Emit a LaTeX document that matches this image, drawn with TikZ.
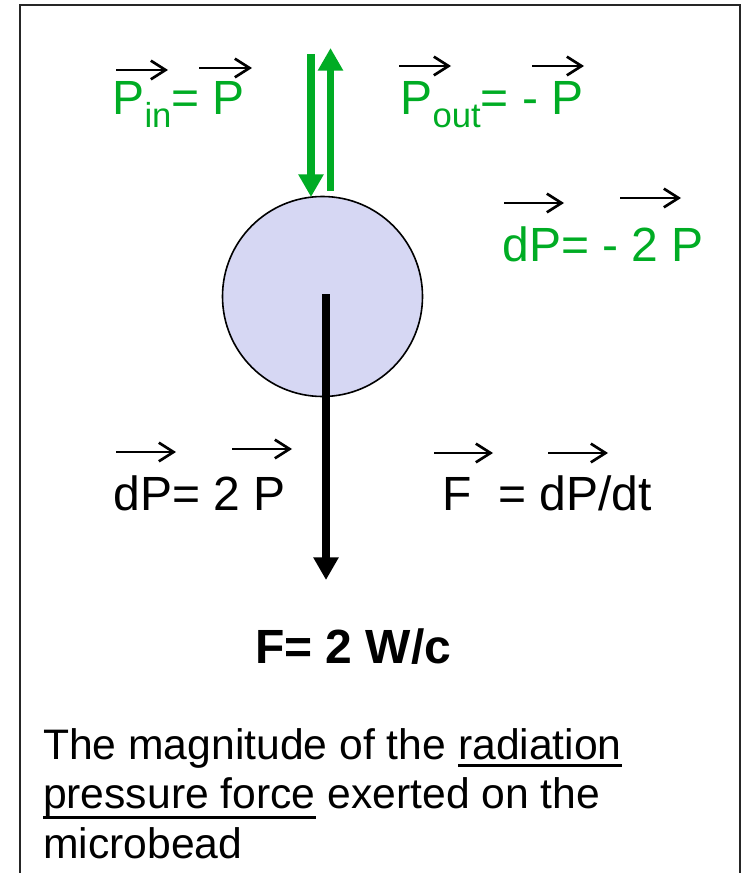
\documentclass[tikz,border=0pt]{standalone}
\usepackage{fontspec}
\setmainfont{Liberation Sans}
\usetikzlibrary{arrows.meta}
\definecolor{lgreen}{RGB}{0,172,36}
\definecolor{beadfill}{RGB}{214,215,243}
\newcommand\subtx[1]{\raisebox{-9.75pt}{\fontsize{26}{27}\selectfont #1}}
\newsavebox\ulbox
\newcommand\myul[2]{\sbox\ulbox{#2}\rlap{\rule[-#1]{\wd\ulbox}{2.2pt}}\usebox\ulbox}
\tikzset{
  lbl/.style={anchor=base west, inner sep=0pt, outer sep=0pt, font=\fontsize{36}{42}\selectfont},
  glbl/.style={lbl, text=lgreen},
  txt/.style={anchor=base west, inner sep=0pt, outer sep=0pt, font=\fontsize{32}{38}\selectfont},
  vec/.style={line width=2pt, -{Straight Barb[length=11pt, width=14pt, line width=2pt]}},
  beam/.style={lgreen, line width=5.6pt, -{Triangle[length=17pt, width=18pt]}},
  force/.style={black, line width=6pt, -{Triangle[length=17pt, width=18pt]}},
}
\begin{document}
\begin{tikzpicture}[x=0.75pt, y=-0.75pt]
\useasboundingbox (0,0) rectangle (743,873);
% frame
\draw[line width=1.5pt, black!85] (20,873) -- (20,5) -- (740,5) -- (740,873);

% bead
\node[circle, draw, line width=1.2pt, fill=beadfill, minimum size=200*0.75pt, inner sep=0pt] (bead) at (322.5,296.5) {};

% light beams
\coordinate (inS) at (311,54);
\coordinate (inE) at (311,197);
\coordinate (outS) at (330.5,191);
\coordinate (outE) at (330.5,48);
\draw[beam] (inS) -- (inE);
\draw[beam] (outS) -- (outE);

% force arrow
\coordinate (fS) at (326,294);
\coordinate (fE) at (326,580);
\draw[force] (fS) -- (fE);

% labels
\node[glbl] (pin) at (112.5,115) {P\subtx{in}= P};
\node[glbl] (pout) at (400.5,115) {P\subtx{out}= - P};
\node[glbl] (dpg) at (502.5,262) {dP= - 2 P};
\node[lbl] (dpb) at (113.5,510) {dP= 2 P};
\node[lbl] (fdef) at (442.5,510) {F \ = dP/dt};
\node[lbl, font=\fontsize{36}{42}\selectfont\bfseries] (fres) at (255,663) {F= 2 W/c};

% vector arrows
\draw[vec] (116,70) -- (168,70);
\draw[vec] (199,68) -- (252,68);
\draw[vec] (399,66) -- (451,66);
\draw[vec] (532,66) -- (584,66);
\draw[vec] (504,203) -- (564,203);
\draw[vec] (620,198) -- (681,198);
\draw[vec] (116,452) -- (176,452);
\draw[vec] (232,449) -- (292,449);
\draw[vec] (434,453) -- (493,453);
\draw[vec] (548,453) -- (608,453);

% bottom text
\node[txt] (l1) at (43,759) {The magnitude of the \myul{6pt}{radiation}};
\node[txt] (l2) at (43,808) {\myul{8.2pt}{pressure force} exerted on the};
\node[txt] (l3) at (43,858) {microbead};
\end{tikzpicture}
\end{document}
